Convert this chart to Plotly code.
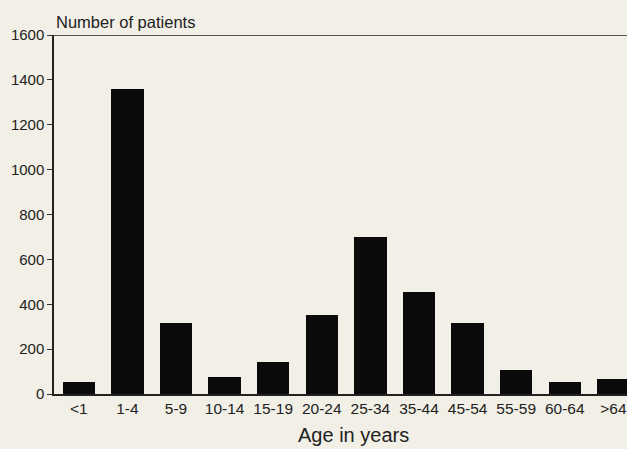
import plotly.graph_objects as go

categories = ["<1", "1-4", "5-9", "10-14", "15-19", "20-24", "25-34",
              "35-44", "45-54", "55-59", "60-64", ">64"]
patients = [55, 1360, 316, 75, 144, 351, 700, 456, 316, 107, 54, 68]
y_ticks = [0, 200, 400, 600, 800, 1000, 1200, 1400, 1600]

bg = "#f1efe6"
txt = "#222222"
font_family = "Liberation Sans, Arial, Helvetica, sans-serif"

fig = go.Figure(go.Bar(
    x=list(range(len(categories))),
    y=patients,
    width=0.67,
    marker=dict(color="#0a0a0a", line=dict(width=0)),
))

fig.update_layout(
    width=627, height=449,
    margin=dict(l=54, r=0, t=35, b=55),
    paper_bgcolor=bg, plot_bgcolor=bg,
    showlegend=False,
    font=dict(family=font_family, color=txt, size=15),
    bargap=0,
)

fig.update_xaxes(
    range=[-0.51, 11.28],
    tickmode="array",
    tickvals=list(range(len(categories))),
    ticktext=categories,
    showgrid=False, zeroline=False,
    showline=True, linecolor="#222", linewidth=1.5,
    ticks="", tickfont=dict(size=15.5, color=txt),
)

fig.update_yaxes(
    range=[0, 1600],
    tickmode="array",
    tickvals=y_ticks,
    showgrid=False, zeroline=False,
    showline=True, linecolor="#222", linewidth=1.5,
    ticks="outside", ticklen=5, tickwidth=1, tickcolor="#333",
    tickfont=dict(size=15, color=txt),
)

# top border line at 1600
fig.add_shape(type="line", xref="paper", yref="y", x0=0, x1=1, y0=1600, y1=1600,
              line=dict(color="#222", width=1.5))

fig.add_annotation(text="Number of patients", xref="paper", yref="paper",
                   x=0, y=1, xanchor="left", yanchor="bottom", yshift=2,
                   showarrow=False, font=dict(size=16.5, color=txt))
fig.add_annotation(text="Age in years", xref="paper", yref="paper",
                   x=(353 - 54) / (627 - 54), y=0, xanchor="center", yanchor="top",
                   yshift=-28, showarrow=False, font=dict(size=20, color=txt))

fig.write_html(
    "out.html",
    config={"displayModeBar": False},
    post_script="document.body.style.margin='0';document.body.style.overflow='hidden';",
)
